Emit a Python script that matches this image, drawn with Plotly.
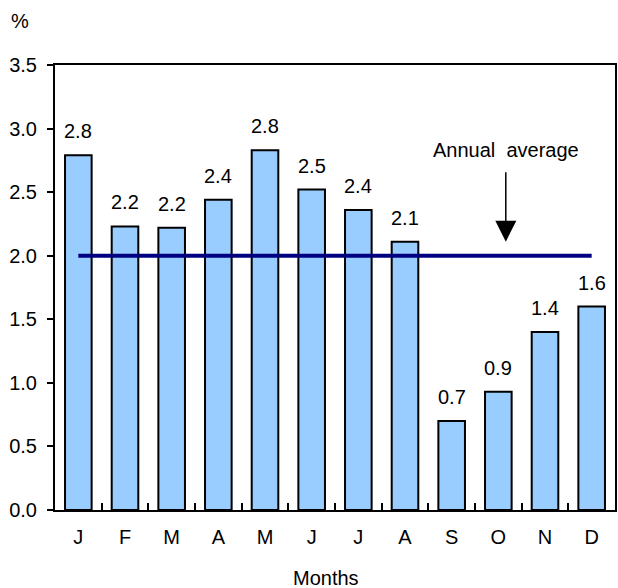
import plotly.graph_objects as go

month_ids = ["Jan", "Feb", "Mar", "Apr", "May", "Jun", "Jul", "Aug", "Sep", "Oct", "Nov", "Dec"]
month_labels = ["J", "F", "M", "A", "M", "J", "J", "A", "S", "O", "N", "D"]
values = [2.79, 2.23, 2.22, 2.44, 2.83, 2.52, 2.36, 2.11, 0.70, 0.93, 1.40, 1.60]
value_labels = ["2.8", "2.2", "2.2", "2.4", "2.8", "2.5", "2.4", "2.1", "0.7", "0.9", "1.4", "1.6"]
annual_average = 2.0
y_ticks = [0.0, 0.5, 1.0, 1.5, 2.0, 2.5, 3.0, 3.5]

FONT = "Liberation Sans, Arial, Helvetica, sans-serif"
FS = 20

W, H = 618, 588
L, R, T, B = 55, 1, 65, 78
PW, PH = W - L - R, H - T - B

fig = go.Figure()
fig.add_trace(go.Bar(
    x=month_ids, y=values, width=0.57,
    marker=dict(color="#99CCFF", line=dict(color="black", width=2)),
    hoverinfo="skip",
))
fig.add_trace(go.Scatter(
    x=[month_ids[0], month_ids[-1]], y=[annual_average, annual_average],
    mode="lines", line=dict(color="#000080", width=4),
    hoverinfo="skip",
))

annotations = []
for m, v, t in zip(month_ids, values, value_labels):
    annotations.append(dict(x=m, y=v, text=t, showarrow=False, yanchor="middle",
                            yshift=24, font=dict(size=FS, color="black", family=FONT)))

annotations.append(dict(x=9.16, y=2.11, xref="x", yref="y", text="Annual  average",
                        showarrow=True, ax=0, ay=-92, arrowhead=2, arrowsize=2.8,
                        arrowwidth=1.5, arrowcolor="black", startstandoff=10,
                        font=dict(size=FS, color="black", family=FONT)))
annotations.append(dict(x=(20 - L) / PW, y=1 + (T - 21) / PH, xref="paper", yref="paper",
                        text="%", showarrow=False, xanchor="center", yanchor="middle",
                        font=dict(size=FS, color="black", family=FONT)))
annotations.append(dict(x=(327 - L) / PW, y=-(578 - (T + PH)) / PH, xref="paper", yref="paper",
                        text="Months", showarrow=False, xanchor="center", yanchor="middle",
                        font=dict(size=FS, color="black", family=FONT)))

fig.update_layout(
    width=W, height=H,
    margin=dict(l=L, r=R, t=T, b=B),
    plot_bgcolor="white", paper_bgcolor="white",
    showlegend=False,
    font=dict(family=FONT, size=FS, color="black"),
    annotations=annotations,
    xaxis=dict(
        type="category", tickmode="array", tickvals=month_ids, ticktext=month_labels,
        tickson="boundaries", ticks="inside", ticklen=7, tickwidth=2, tickcolor="black",
        showline=True, linecolor="black", linewidth=2, mirror=True,
        showgrid=False, ticklabelstandoff=8,
        tickfont=dict(size=FS, family=FONT, color="black"),
    ),
    yaxis=dict(
        range=[0, 3.5], tickmode="array", tickvals=y_ticks, tickformat=".1f",
        ticks="outside", ticklen=6, tickwidth=2, tickcolor="black",
        showline=True, linecolor="black", linewidth=2, mirror=True,
        showgrid=False, zeroline=False, ticklabelstandoff=6,
        tickfont=dict(size=FS, family=FONT, color="black"),
    ),
)

fig.write_html("out.html", config={"displayModeBar": False},
               post_script="document.body.style.margin='0';document.body.style.overflow='hidden';")
